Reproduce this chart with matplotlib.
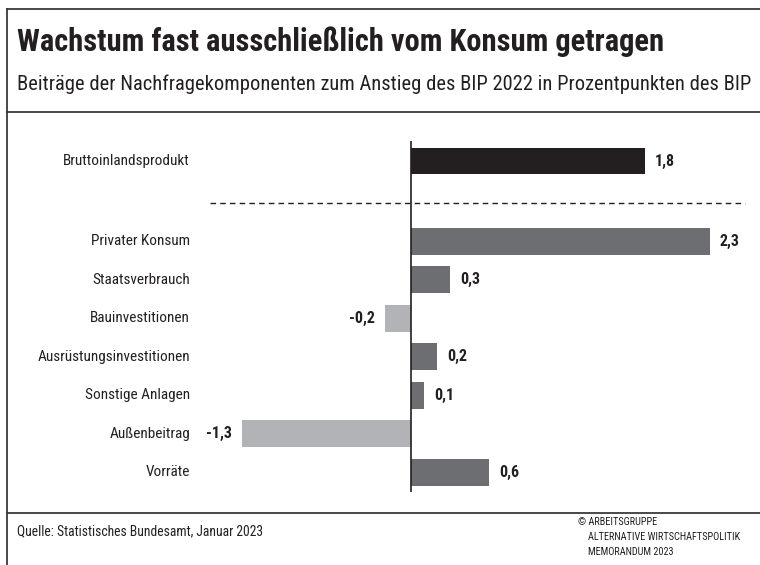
"""Beiträge der Nachfragekomponenten zum BIP-Anstieg 2022 – horizontales Balkendiagramm."""

import matplotlib
matplotlib.use("Agg")
import matplotlib.pyplot as plt  # noqa: E402
from matplotlib import font_manager  # noqa: E402
from matplotlib.lines import Line2D  # noqa: E402

# --- Daten ---------------------------------------------------------------
categories = [
    "Bruttoinlandsprodukt",
    "Privater Konsum",
    "Staatsverbrauch",
    "Bauinvestitionen",
    "Ausrüstungsinvestitionen",
    "Sonstige Anlagen",
    "Außenbeitrag",
    "Vorräte",
]
values = [1.8, 2.3, 0.3, -0.2, 0.2, 0.1, -1.3, 0.6]
value_labels = ["1,8", "2,3", "0,3", "-0,2", "0,2", "0,1", "-1,3", "0,6"]

title = "Wachstum fast ausschließlich vom Konsum getragen"
subtitle = "Beiträge der Nachfragekomponenten zum Anstieg des BIP 2022 in Prozentpunkten des BIP"
source = "Quelle: Statistisches Bundesamt, Januar 2023"
credit = ["© ARBEITSGRUPPE", "ALTERNATIVE WIRTSCHAFTSPOLITIK", "MEMORANDUM 2023"]

C_TOTAL = "#231f20"
C_POS = "#6d6e71"
C_NEG = "#b1b3b6"

# schmale Schrift, falls vorhanden
installed = {f.name for f in font_manager.fontManager.ttflist}
narrow = next((f for f in ["Liberation Sans Narrow", "Roboto Condensed", "Open Sans Condensed"]
               if f in installed), "Liberation Sans")
plt.rcParams["font.family"] = [narrow, "DejaVu Sans"]

W, H = 760, 565
fig = plt.figure(figsize=(W / 100, H / 100), dpi=100)


def fx(px):
    return px / W


def fy(py):
    return 1 - py / H


# Rahmenlinien
for x0, y0, x1, y1 in [(7, 9, 760, 9), (7, 9, 7, 565), (7, 112, 760, 112), (7, 513, 760, 513)]:
    fig.add_artist(Line2D([fx(x0), fx(x1)], [fy(y0), fy(y1)], color="#3a3a3a", lw=1.3))

fig.text(fx(17), fy(42), title, fontsize=22, fontweight="bold", color="#231f20", va="center")
fig.text(fx(17), fy(84), subtitle, fontsize=14.8, color="#231f20", va="center")
fig.text(fx(17), fy(531), source, fontsize=9.8, color="#231f20", va="center")
fig.text(fx(578), fy(522), credit[0], fontsize=7.4, color="#231f20", va="center")
fig.text(fx(588), fy(537), credit[1], fontsize=7.4, color="#231f20", va="center")
fig.text(fx(588), fy(552), credit[2], fontsize=7.4, color="#231f20", va="center")

# --- Diagrammfläche ------------------------------------------------------
zero_px, unit_px = 411, 130.0
row0_px, row_px = 161, 38.5
gap = 2.08  # Abstand BIP -> Komponenten in Zeilen
ax_l, ax_r, ax_t, ax_b = 210, 750, 130, 500
ax = fig.add_axes([fx(ax_l), fy(ax_b), (ax_r - ax_l) / W, (ax_b - ax_t) / H])
ax.set_xlim((ax_l - zero_px) / unit_px, (ax_r - zero_px) / unit_px)
ax.set_ylim((ax_b - row0_px) / row_px, (ax_t - row0_px) / row_px)
ax.axis("off")

ypos = [0] + [gap + i for i in range(len(categories) - 1)]
colors = [C_TOTAL] + [C_POS if v >= 0 else C_NEG for v in values[1:]]
ax.barh(ypos, values, height=0.7, color=colors, zorder=2)

ax.vlines(0, (141 - row0_px) / row_px, (492 - row0_px) / row_px, color="#231f20", lw=1.2, zorder=3)
ax.plot([(210 - zero_px) / unit_px, (745 - zero_px) / unit_px],
        [(203 - row0_px) / row_px] * 2, color="#231f20", lw=1.0, ls=(0, (4, 3)))

off = 10 / unit_px
for y, v, lab, cat in zip(ypos, values, value_labels, categories):
    ax.text((190 - zero_px) / unit_px, y, cat, ha="right", va="center", fontsize=11, color="#231f20")
    if v >= 0:
        ax.text(v + off, y, lab, ha="left", va="center", fontsize=11.5, fontweight="bold", color="#231f20")
    else:
        ax.text(v - off, y, lab, ha="right", va="center", fontsize=11.5, fontweight="bold", color="#231f20")

fig.savefig("out.png", dpi=100)
